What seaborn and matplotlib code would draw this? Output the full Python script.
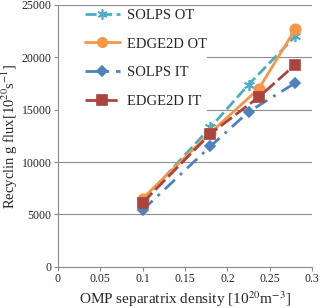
import pandas as pd
import seaborn as sns
import matplotlib.pyplot as plt
from matplotlib.patches import Rectangle

# data
solps_x = [0.1, 0.18, 0.225, 0.28]
edge_x = [0.1, 0.18, 0.237, 0.28]
solps_ot = [6300, 13300, 17400, 22000]
edge_ot = [6500, 12800, 17000, 22700]
solps_it = [5400, 11500, 14800, 17550]
edge_it = [6100, 12700, 16200, 19300]

series = ["SOLPS OT", "EDGE2D OT", "SOLPS IT", "EDGE2D IT"]
df = pd.concat([
    pd.DataFrame({"x": solps_x, "y": solps_ot, "case": "SOLPS OT"}),
    pd.DataFrame({"x": edge_x, "y": edge_ot, "case": "EDGE2D OT"}),
    pd.DataFrame({"x": solps_x, "y": solps_it, "case": "SOLPS IT"}),
    pd.DataFrame({"x": edge_x, "y": edge_it, "case": "EDGE2D IT"}),
])

sns.set_style("white")
plt.rcParams['font.family'] = ['Liberation Serif', 'DejaVu Serif']
plt.rcParams['mathtext.fontset'] = 'stix'

colors = {"SOLPS OT": "#4BACC6", "EDGE2D OT": "#F79646",
          "SOLPS IT": "#4F81BD", "EDGE2D IT": "#A9443F"}
dashes = {"SOLPS OT": (4, 1.6), "EDGE2D OT": "", "SOLPS IT": (5, 2.5, 1, 2.5), "EDGE2D IT": (5, 1.6)}
markers = {"SOLPS OT": (6, 2, 0), "EDGE2D OT": "o", "SOLPS IT": "D", "EDGE2D IT": "s"}
msize = {"SOLPS OT": 8, "EDGE2D OT": 7.5, "SOLPS IT": 5.5, "EDGE2D IT": 7.5}

fig = plt.figure(figsize=(3.2, 3.08), dpi=100)
ax = fig.add_axes([0.18, 0.134, 0.796, 0.85])

for s in series:
    d = df[df["case"] == s]
    sns.lineplot(data=d, x="x", y="y", ax=ax, color=colors[s], lw=2,
                 marker=markers[s], markersize=msize[s], dashes=False,
                 markeredgecolor=colors[s], markeredgewidth=1.2, label=s)
    if dashes[s]:
        ax.lines[-1].set_dashes(dashes[s])

ax.set_xlim(0, 0.3)
ax.set_ylim(0, 25000)
ax.set_xticks([0, 0.05, 0.1, 0.15, 0.2, 0.25, 0.3])
ax.set_xticklabels(["0", "0.05", "0.1", "0.15", "0.2", "0.25", "0.3"])
ax.set_yticks(range(0, 25001, 5000))
ax.yaxis.grid(True, color="#8c8c8c", lw=0.8)
ax.set_axisbelow(True)
for sp in ["top", "right"]:
    ax.spines[sp].set_visible(False)
for sp in ["left", "bottom"]:
    ax.spines[sp].set_color("#8c8c8c")
ax.tick_params(axis="both", labelsize=8.5, length=3, color="#8c8c8c", direction="out",
               bottom=True, left=True, pad=1.5)
ax.set_xlabel("OMP separatrix density [10$^{20}$m$^{-3}$]", fontsize=11, labelpad=3)
ax.set_ylabel("Recyclin g flux[10$^{20}$s$^{-1}$]", fontsize=10.5, labelpad=1)

# white box behind legend, hides the grid lines there
ax.add_patch(Rectangle((0.004, 0.575), 0.582, 0.41, transform=ax.transAxes,
                       facecolor="white", edgecolor="none", zorder=1.5))

leg = ax.legend(loc="upper left", bbox_to_anchor=(0.107, 0.985), frameon=False, fontsize=10.5,
                handlelength=2.4, handletextpad=0.48, labelspacing=1.05,
                borderaxespad=0, borderpad=0, markerscale=0.9)

fig.savefig("out.png", dpi=100)
